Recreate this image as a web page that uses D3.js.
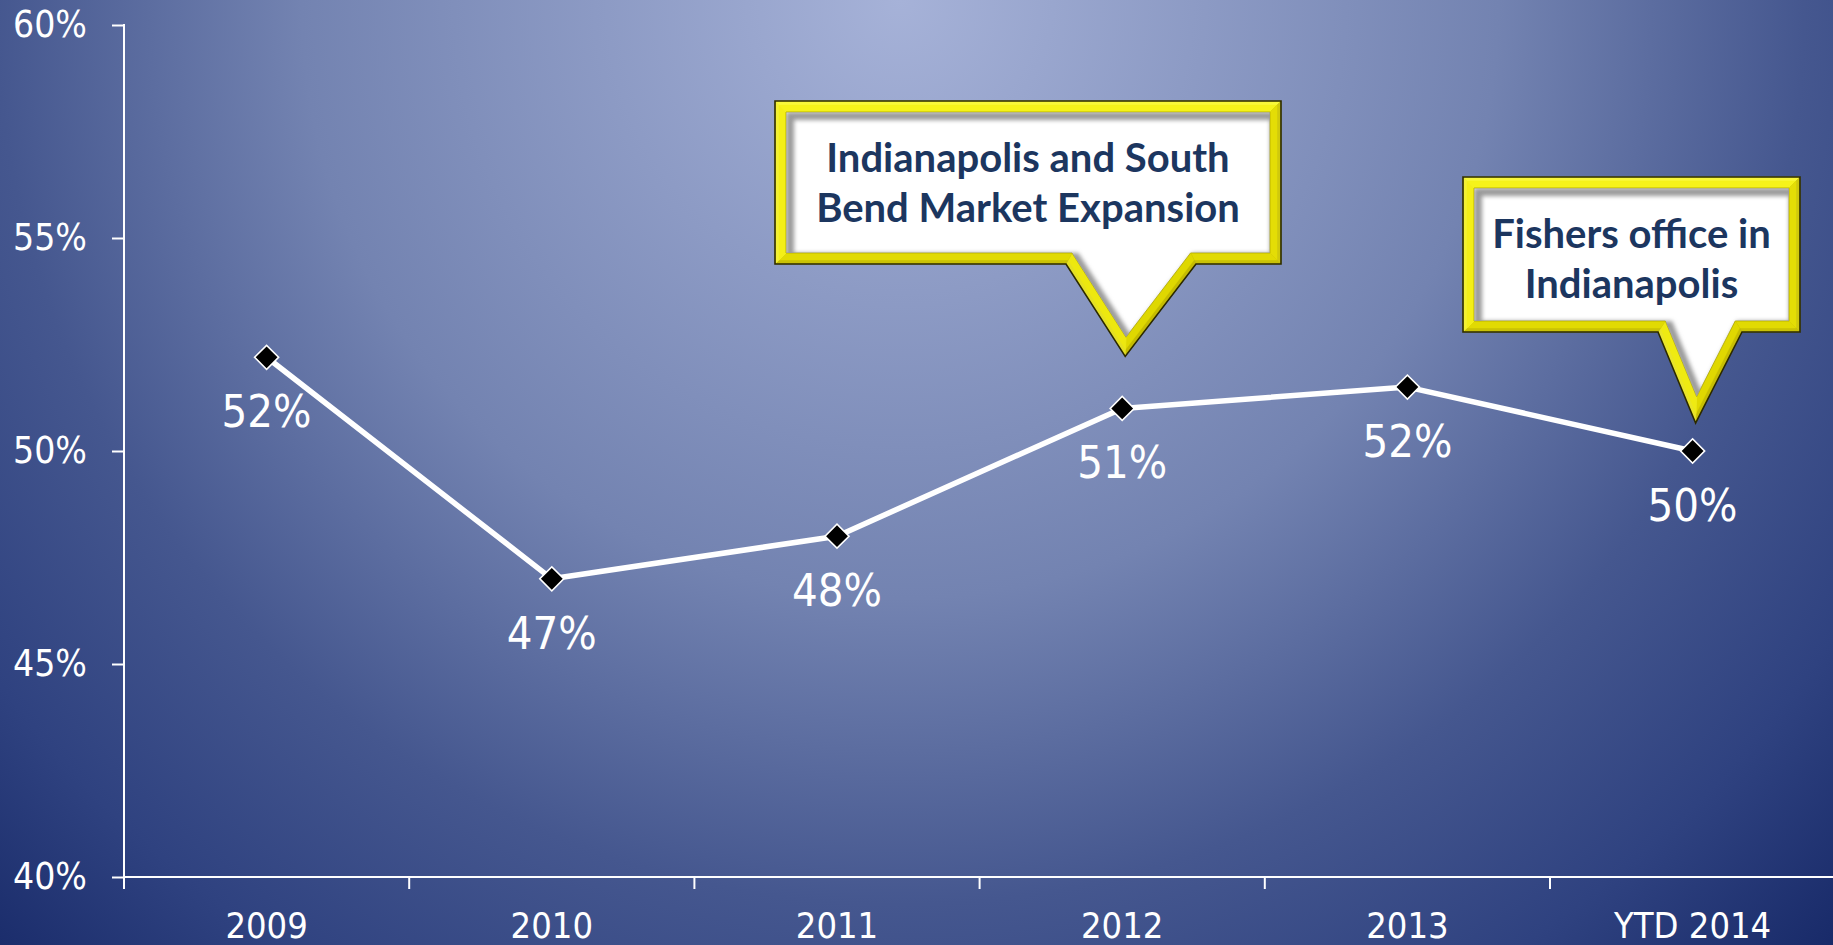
<!DOCTYPE html>
<html>
<head>
<meta charset="utf-8">
<script src="https://cdn.jsdelivr.net/npm/d3@7/dist/d3.min.js"></script>
<style>
  html, body { margin: 0; padding: 0; overflow: hidden; background: #1b2b6b; }
  svg { display: block; }
  .tah { font-family: "DejaVu Sans Condensed", "DejaVu Sans", sans-serif; font-stretch: condensed; }
</style>
</head>
<body>
<svg id="chart" width="1833" height="945"></svg>
<script>
// ---------- data ----------
const categories = ["2009", "2010", "2011", "2012", "2013", "YTD 2014"];
const values = [52.2, 47.0, 48.0, 51.0, 51.5, 50.0];
const valueLabels = ["52%", "47%", "48%", "51%", "52%", "50%"];
const yTicks = [40, 45, 50, 55, 60];
const yTickLabels = ["40%", "45%", "50%", "55%", "60%"];
const calloutCategories = ["2012", "YTD 2014"];
const calloutTexts = [
  ["Indianapolis and South", "Bend Market Expansion"],
  ["Fishers office in", "Indianapolis"]
];

// ---------- layout ----------
const W = 1833, H = 945;
const plotLeft = 124, plotTop = 25, plotBottom = 877;
const bandW = 285.2;
const calloutBoxes = [
  { x0: 775, x1: 1281, y0: 101, y1: 264, bL: 1066, bR: 1196, gap: 52 },
  { x0: 1463, x1: 1800, y0: 177, y1: 332, bL: 1658, bR: 1742, gap: 28 }
];

const svg = d3.select("#chart");
const defs = svg.append("defs");

// background radial gradient
const bg = defs.append("radialGradient").attr("id", "bg")
  .attr("gradientUnits", "userSpaceOnUse")
  .attr("cx", 900).attr("cy", 0).attr("r", 1330);
[[0, "#a6b2d8"], [0.45, "#7383b1"], [0.68, "#45578f"], [0.85, "#2f4280"], [1, "#182a69"]]
  .forEach(([o, c]) => bg.append("stop").attr("offset", o).attr("stop-color", c));
svg.append("rect").attr("width", W).attr("height", H).attr("fill", "url(#bg)");

// scales
const x = d3.scaleBand().domain(categories).range([plotLeft, plotLeft + bandW * categories.length]).padding(0);
const y = d3.scaleLinear().domain([40, 60]).range([plotBottom, plotTop]);
const cx = d => x(d) + x.bandwidth() / 2;

// y axis
const yAxis = svg.append("g").attr("transform", `translate(${plotLeft},0)`)
  .call(d3.axisLeft(y).tickValues(yTicks).tickSize(12).tickPadding(25)
    .tickFormat((d, i) => yTickLabels[i]));
yAxis.select(".domain").remove();
yAxis.selectAll(".tick line").attr("stroke", "#fff").attr("stroke-width", 2);
yAxis.selectAll(".tick text").attr("class", "tah").attr("fill", "#fff").attr("font-size", 37);
svg.append("line").attr("x1", plotLeft).attr("x2", plotLeft)
  .attr("y1", y(60) - 1).attr("y2", plotBottom + 12)
  .attr("stroke", "#fff").attr("stroke-width", 2);

// x axis
const xAxis = svg.append("g").attr("transform", `translate(0,${plotBottom})`)
  .call(d3.axisBottom(x).tickSize(0));
xAxis.select(".domain").remove();
xAxis.selectAll(".tick text").attr("class", "tah").attr("fill", "#fff")
  .attr("font-size", 36).attr("dy", null).attr("y", 61);
svg.append("line").attr("x1", plotLeft).attr("x2", W)
  .attr("y1", plotBottom).attr("y2", plotBottom)
  .attr("stroke", "#fff").attr("stroke-width", 2);
svg.append("g").selectAll("line").data(d3.range(categories.length + 1)).join("line")
  .attr("x1", i => x.range()[0] + i * x.bandwidth())
  .attr("x2", i => x.range()[0] + i * x.bandwidth())
  .attr("y1", plotBottom).attr("y2", plotBottom + 12)
  .attr("stroke", "#fff").attr("stroke-width", 2);

// callouts
function insetPolygon(pts, d) {
  const n = pts.length, lines = [];
  for (let i = 0; i < n; i++) {
    const p = pts[i], q = pts[(i + 1) % n];
    const dx = q[0] - p[0], dy = q[1] - p[1], len = Math.hypot(dx, dy);
    const nx = -dy / len, ny = dx / len;
    lines.push({ p: [p[0] + d * nx, p[1] + d * ny], dir: [dx, dy], n: [nx, ny] });
  }
  const out = [];
  for (let i = 0; i < n; i++) {
    const A = lines[(i - 1 + n) % n], B = lines[i];
    const cr = A.dir[0] * B.dir[1] - A.dir[1] * B.dir[0];
    const qx = B.p[0] - A.p[0], qy = B.p[1] - A.p[1];
    const t = (qx * B.dir[1] - qy * B.dir[0]) / cr;
    out.push([A.p[0] + t * A.dir[0], A.p[1] + t * A.dir[1]]);
  }
  return { pts: out, normals: lines.map(l => l.n) };
}

const blur = defs.append("filter").attr("id", "soft").attr("x", "-10%").attr("y", "-10%")
  .attr("width", "120%").attr("height", "120%");
blur.append("feGaussianBlur").attr("stdDeviation", 2.2);

const bevelColor = d3.interpolateRgb("#c4bb00", "#ffff40");
const bevel = 11;

calloutCategories.forEach((cat, k) => {
  const b = calloutBoxes[k];
  const idx = categories.indexOf(cat);
  const tip = [cx(cat) + 3, y(values[idx]) - b.gap];
  const outer = [[b.x0, b.y0], [b.x1, b.y0], [b.x1, b.y1], [b.bR, b.y1], tip, [b.bL, b.y1], [b.x0, b.y1]];
  const ins = insetPolygon(outer, bevel);
  const inner = ins.pts;
  const mid = insetPolygon(outer, 4).pts;
  const g = svg.append("g");
  const poly = p => "M" + p.map(v => v.join(",")).join("L") + "Z";

  // bevel quads
  const lx = -0.6, ly = -0.8;
  outer.forEach((p, i) => {
    const j = (i + 1) % outer.length;
    const nrm = ins.normals[i];
    const L = -(nrm[0] * lx + nrm[1] * ly);
    const c = bevelColor((L + 1) / 2);
    g.append("path").attr("d", poly([p, outer[j], inner[j], inner[i]]))
      .attr("fill", c).attr("stroke", c).attr("stroke-width", 0.6);
    // brighter inner strip
    const c2 = d3.interpolateRgb(c, "#f4ee00")(0.55);
    g.append("path").attr("d", poly([mid[i], mid[j], inner[j], inner[i]]))
      .attr("fill", c2).attr("stroke", c2).attr("stroke-width", 0.4);
  });
  g.append("path").attr("d", poly(outer)).attr("fill", "none").attr("stroke", "#2a2800").attr("stroke-width", 1.6);

  // inner white with inset shadow
  const clipId = "clip" + k;
  defs.append("clipPath").attr("id", clipId).append("path").attr("d", poly(inner));
  g.append("path").attr("d", poly(inner)).attr("fill", "#ffffff").attr("stroke", "#bdb600").attr("stroke-width", 1);
  g.append("g").attr("clip-path", `url(#${clipId})`)
    .append("path").attr("d", poly(inner)).attr("transform", "translate(4,4)")
    .attr("fill", "none").attr("stroke", "#9a9a9a").attr("stroke-width", 8).attr("filter", "url(#soft)");

  // text
  const tcx = (b.x0 + b.x1) / 2;
  g.selectAll("text.ct").data(calloutTexts[k]).join("text").attr("class", "ct")
    .attr("x", tcx).attr("y", (d, i) => b.y0 + 71 + i * 50)
    .attr("text-anchor", "middle")
    .attr("font-family", "Lato, 'Open Sans', sans-serif").attr("font-weight", 700)
    .attr("font-size", 40).attr("fill", "#1c365f")
    .text(d => d);
});

// line
const pts = categories.map((c, i) => [cx(c), y(values[i])]);
svg.append("path").datum(pts)
  .attr("d", d3.line())
  .attr("fill", "none").attr("stroke", "#fff").attr("stroke-width", 5.5)
  .attr("stroke-linejoin", "round");

// markers
svg.append("g").selectAll("path").data(pts).join("path")
  .attr("d", d3.symbol(d3.symbolSquare, 289)())
  .attr("transform", d => `translate(${d[0]},${d[1]}) rotate(45)`)
  .attr("fill", "#000").attr("stroke", "#fff").attr("stroke-width", 1.6);

// data labels
svg.append("g").selectAll("text").data(pts).join("text")
  .attr("class", "tah")
  .attr("x", d => d[0]).attr("y", d => d[1] + 70)
  .attr("text-anchor", "middle").attr("fill", "#fff").attr("font-size", 45)
  .text((d, i) => valueLabels[i]);
</script>
</body>
</html>
